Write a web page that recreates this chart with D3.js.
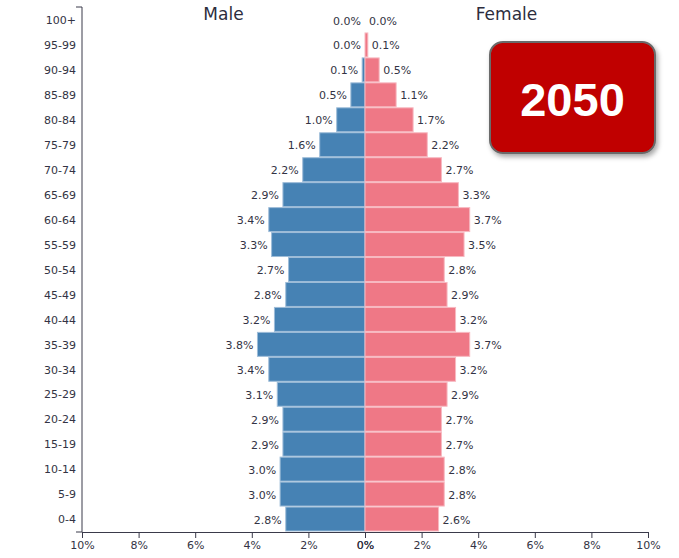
<!DOCTYPE html>
<html lang="en">
<head>
    <meta charset="UTF-8">
    <title>Population pyramid 2050</title>
    <script src="https://cdn.jsdelivr.net/npm/d3@7/dist/d3.min.js"></script>
    <style>
        body { margin: 0; background: #fff; }
        svg { display: block; font-family: "DejaVu Sans", sans-serif; }
    </style>
</head>
<body>
    <svg width="679" height="558"></svg>
    <script>
        // age groups, top to bottom
        var ageGroups = ['100+', '95-99', '90-94', '85-89', '80-84', '75-79', '70-74', '65-69', '60-64', '55-59',
            '50-54', '45-49', '40-44', '35-39', '30-34', '25-29', '20-24', '15-19', '10-14', '5-9', '0-4'];
        // share of total population, %
        var male = [0.0, 0.0, 0.1, 0.5, 1.0, 1.6, 2.2, 2.9, 3.4, 3.3, 2.7, 2.8, 3.2, 3.8, 3.4, 3.1, 2.9, 2.9, 3.0, 3.0, 2.8];
        var female = [0.0, 0.1, 0.5, 1.1, 1.7, 2.2, 2.7, 3.3, 3.7, 3.5, 2.8, 2.9, 3.2, 3.7, 3.2, 2.9, 2.7, 2.7, 2.8, 2.8, 2.6];
        var xTicks = [0, 2, 4, 6, 8, 10];
        var year = '2050';

        var svg = d3.select('svg');
        // note: "top" is taken by window.top, so use other names
        var plotLeft = 82, plotRight = 648, plotTop = 7, plotBottom = 532;
        var mid = (plotLeft + plotRight) / 2;

        var xMale = d3.scaleLinear().domain([0, 10]).range([mid, plotLeft]);
        var xFemale = d3.scaleLinear().domain([0, 10]).range([mid, plotRight]);
        var y = d3.scaleBand().domain(ageGroups).range([plotTop, plotBottom]).padding(0.04);

        var rows = ageGroups.map(function (a, i) { return { age: a, m: male[i], f: female[i] }; });

        // bars
        svg.append('g').selectAll('rect').data(rows).enter().append('rect')
            .attr('x', function (d) { return xMale(d.m); })
            .attr('y', function (d) { return y(d.age); })
            .attr('width', function (d) { return mid - xMale(d.m); })
            .attr('height', y.bandwidth())
            .style('fill', '#4682b4')
            .style('stroke', '#9dbcd8')
            .style('stroke-width', 1);

        svg.append('g').selectAll('rect').data(rows).enter().append('rect')
            .attr('x', mid)
            .attr('y', function (d) { return y(d.age); })
            .attr('width', function (d) { return xFemale(d.f) - mid; })
            .attr('height', y.bandwidth())
            .style('fill', '#ef7886')
            .style('stroke', '#f7b9c1')
            .style('stroke-width', 1);

        // value labels
        svg.append('g').selectAll('text').data(rows).enter().append('text')
            .attr('x', function (d) { return xMale(d.m) - 4; })
            .attr('y', function (d) { return y(d.age) + y.bandwidth() / 2 + 0.7; })
            .attr('dy', '0.35em')
            .attr('text-anchor', 'end')
            .style('font-size', '11px')
            .style('fill', '#333344')
            .text(function (d) { return d.m.toFixed(1) + '%'; });

        svg.append('g').selectAll('text').data(rows).enter().append('text')
            .attr('x', function (d) { return xFemale(d.f) + 4; })
            .attr('y', function (d) { return y(d.age) + y.bandwidth() / 2 + 0.7; })
            .attr('dy', '0.35em')
            .style('font-size', '11px')
            .style('fill', '#333344')
            .text(function (d) { return d.f.toFixed(1) + '%'; });

        // axes
        var yAxis = svg.append('g')
            .attr('transform', 'translate(' + plotLeft + ',0.7)')
            .call(d3.axisLeft(y).tickSize(0).tickPadding(6));

        var fmt = function (d) { return d + '%'; };
        var xAxisM = svg.append('g')
            .attr('transform', 'translate(0,' + plotBottom + ')')
            .call(d3.axisBottom(xMale).tickValues(xTicks).tickFormat(fmt).tickSizeOuter(0));
        var xAxisF = svg.append('g')
            .attr('transform', 'translate(0,' + plotBottom + ')')
            .call(d3.axisBottom(xFemale).tickValues(xTicks).tickFormat(fmt).tickSizeOuter(0));

        [yAxis, xAxisM, xAxisF].forEach(function (g) {
            g.selectAll('text').style('font-size', '11px').style('fill', '#333344').style('font-family', '"DejaVu Sans", sans-serif');
            g.selectAll('path, line').style('stroke', '#3a3a4a');
        });
        yAxis.select('.domain').attr('d', 'M-6,' + (plotTop - 0.7) + 'H0V' + (plotBottom - 0.7) + 'H-6');

        // titles
        svg.append('text').attr('x', xMale(5)).attr('y', 20).attr('text-anchor', 'middle')
            .style('font-size', '17px').style('fill', '#2d2d3d').text('Male');
        svg.append('text').attr('x', xFemale(5)).attr('y', 20).attr('text-anchor', 'middle')
            .style('font-size', '17px').style('fill', '#2d2d3d').text('Female');

        // year badge
        var defs = svg.append('defs');
        var f = defs.append('filter').attr('id', 'shadow').attr('x', '-20%').attr('y', '-20%').attr('width', '140%').attr('height', '140%');
        f.append('feDropShadow').attr('dx', 2).attr('dy', 3).attr('stdDeviation', 2.5).attr('flood-color', '#000').attr('flood-opacity', 0.35);

        svg.append('rect')
            .attr('x', 490).attr('y', 42).attr('width', 165).attr('height', 111)
            .attr('rx', 13)
            .style('fill', '#c00000')
            .style('stroke', '#6b6b6b')
            .style('stroke-width', 2)
            .attr('filter', 'url(#shadow)');
        svg.append('text')
            .attr('x', 572.5).attr('y', 116)
            .attr('text-anchor', 'middle')
            .style('font-family', '"Liberation Sans", Arial, sans-serif')
            .style('font-weight', 'bold')
            .style('font-size', '47px')
            .style('fill', '#fff')
            .text(year);
    </script>
</body>
</html>
